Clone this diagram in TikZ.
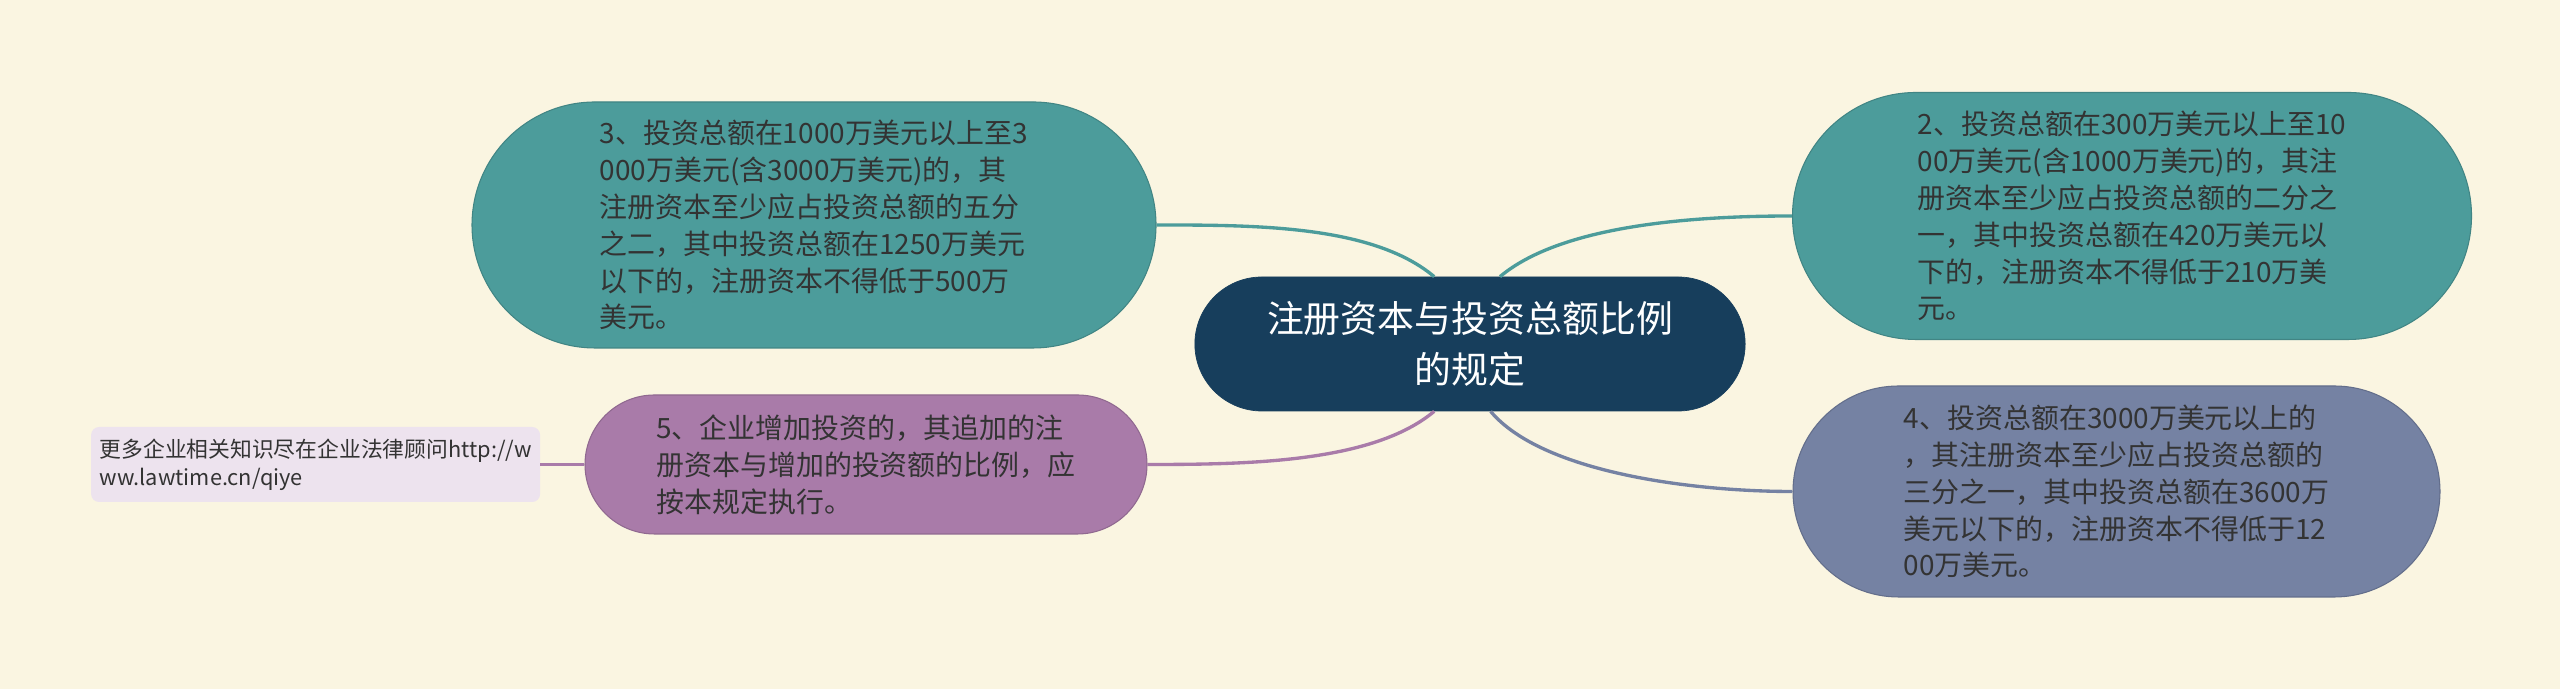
\documentclass[tikz,border=0pt]{standalone}
\usepackage{fontspec}
\setmainfont{Noto Sans CJK SC}
\usepackage{tikz}
\usetikzlibrary{positioning}
\usetikzlibrary{shapes.misc}

\definecolor{mappaper}{HTML}{FAF5E1}
\definecolor{mapnavy}{HTML}{173E5C}
\definecolor{mapteal}{HTML}{4C9C9B}
\definecolor{mappurple}{HTML}{A97BA9}
\definecolor{mapslate}{HTML}{7582A3}
\definecolor{maplilac}{HTML}{EDE3EE}
\definecolor{maptext}{HTML}{333333}

\tikzset{
	topic/.style={rounded rectangle,inner sep=0pt,line width=0.6pt,text=maptext,align=left,font=\fontsize{15.9}{21}\selectfont},
	wire/.style={line width=1.9pt,out distance=1.6cm,in distance=2cm},
}

\begin{document}
\begin{tikzpicture}[node distance=0.88cm]
		\useasboundingbox (0,0) rectangle (51.2,13.78);
		\fill [mappaper] (0,0) rectangle (51.2,13.78);

		\node [rounded rectangle,fill=mapnavy,draw=mapnavy,text=white,align=center,minimum width=11.24cm,minimum height=2.68cm,font=\fontsize{21}{28.5}\selectfont] (title) at (29.4,6.9) {注册资本与投资总额比例\\的规定};
		\node [topic,fill=mapteal,draw=mapteal!85!black,minimum width=13.68cm,minimum height=4.92cm] (n3) at (16.28,9.28) {3、投资总额在1000万美元以上至3\\000万美元(含3000万美元)的，其\\注册资本至少应占投资总额的五分\\之二，其中投资总额在1250万美元\\以下的，注册资本不得低于500万\\美元。};
		\node [topic,fill=mapteal,draw=mapteal!85!black,minimum width=13.58cm,minimum height=4.94cm] (n2) at (42.64,9.46) {2、投资总额在300万美元以上至10\\00万美元(含1000万美元)的，其注\\册资本至少应占投资总额的二分之\\一，其中投资总额在420万美元以\\下的，注册资本不得低于210万美\\元。};
		\node [topic,fill=mapslate,draw=mapslate!85!black,minimum width=12.94cm,minimum height=4.22cm] (n4) at (42.33,3.95) {4、投资总额在3000万美元以上的\\，其注册资本至少应占投资总额的\\三分之一，其中投资总额在3600万\\美元以下的，注册资本不得低于12\\00万美元。};
		\node [topic,fill=mappurple,draw=mappurple!85!black,minimum width=11.24cm,minimum height=2.78cm] (n5) at (17.32,4.49) {5、企业增加投资的，其追加的注\\册资本与增加的投资额的比例，应\\按本规定执行。};
		\node [rectangle,rounded corners=0.16cm,fill=maplilac,text=maptext,align=left,minimum width=8.98cm,minimum height=1.5cm,inner sep=0pt,font=\fontsize{12.4}{16}\selectfont,left=of n5] (link) {更多企业相关知识尽在企业法律顾问http://w\\ww.lawtime.cn/qiye};

		\draw [wire,mapteal] (title.118) to [out=140,in=0] (n3);
		\draw [wire,mapteal] (title.66) to [out=40,in=180] (n2);
		\draw [wire,mapslate] (title.-73) to [out=-50,in=180] (n4);
		\draw [wire,mappurple] (title.-118) to [out=-140,in=0] (n5);
		\draw [wire,mappurple] (n5) -- (link);
	\end{tikzpicture}
\end{document}
